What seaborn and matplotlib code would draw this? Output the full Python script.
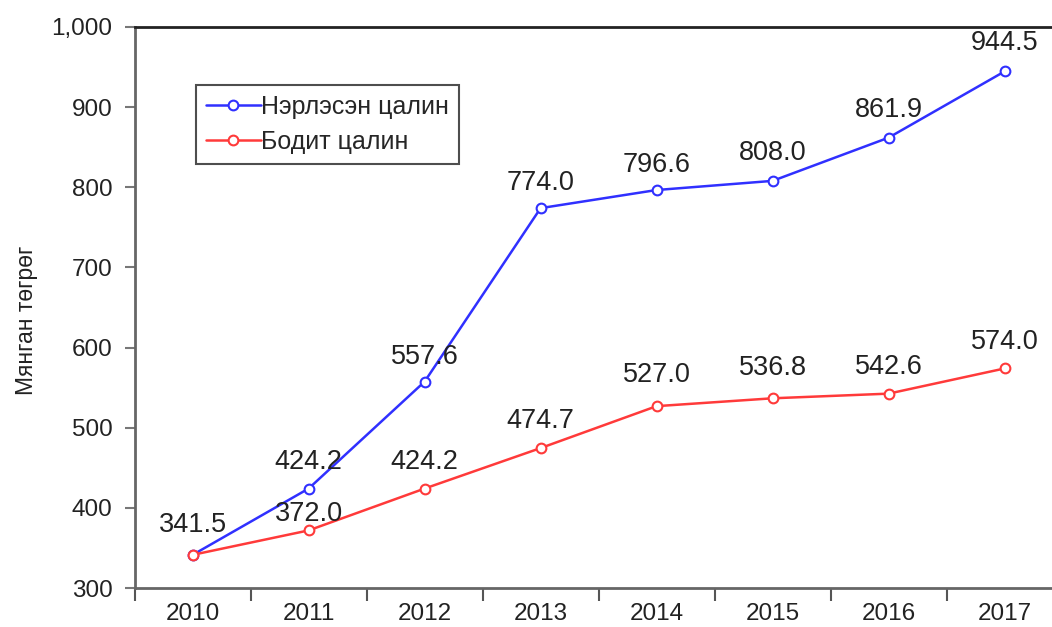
import pandas as pd
import seaborn as sns
import matplotlib.pyplot as plt
from matplotlib.ticker import FuncFormatter, FixedLocator

# Data
years = ['2010', '2011', '2012', '2013', '2014', '2015', '2016', '2017']
nominal = [341.5, 424.2, 557.6, 774.0, 796.6, 808.0, 861.9, 944.5]
real = [341.5, 372.0, 424.2, 474.7, 527.0, 536.8, 542.6, 574.0]
series_names = ['Нэрлэсэн цалин', 'Бодит цалин']
colors = ['#3030ff', '#ff3a3a']

# label offsets (pixels above point); 2010 real label is shared with nominal
nominal_dy = [None, 27, 25, 25, 25, 28, 28, 28]
real_dy = [30, 16, 27, 27, 31, 30, 27, 26]

sns.set_style('white')
plt.rcParams['font.family'] = ['Liberation Sans', 'DejaVu Sans']

df = pd.DataFrame({'Year': years * 2,
                   'Value': nominal + real,
                   'Series': [series_names[0]] * 8 + [series_names[1]] * 8})

fig = plt.figure(figsize=(10.52, 6.27), dpi=100)
ax = fig.add_axes([0.128, 0.062, 0.882, 0.895])

sns.lineplot(data=df, x='Year', y='Value', hue='Series', sort=False,
             palette=colors, marker='o', markersize=7,
             markerfacecolor='white', markeredgewidth=1.5, linewidth=1.8,
             ax=ax)
for line in ax.lines:
    line.set_markeredgecolor(line.get_color())
    line.set_markerfacecolor('white')

for i, (v, dy) in enumerate(zip(nominal, nominal_dy)):
    if dy is None:
        continue
    ax.annotate(f'{v:.1f}', (i, v), xytext=(0, dy), textcoords='offset pixels',
                ha='center', va='center', fontsize=19.5, color='#222222')
for i, (v, dy) in enumerate(zip(real, real_dy)):
    ax.annotate(f'{v:.1f}', (i, v), xytext=(0, dy), textcoords='offset pixels',
                ha='center', va='center', fontsize=19.5, color='#222222')

ax.set_xlim(-0.5, 7.5)
ax.set_ylim(300, 1000)
ax.set_yticks([300, 400, 500, 600, 700, 800, 900, 1000])
ax.yaxis.set_major_formatter(FuncFormatter(lambda v, p: f'{v:,.0f}'))

# ticks between categories, labels at centers
ax.xaxis.set_major_locator(FixedLocator([i - 0.5 for i in range(9)]))
ax.xaxis.set_minor_locator(FixedLocator(list(range(8))))
ax.set_xticklabels([''] * 9)
ax.set_xticklabels(years, minor=True)
ax.tick_params(axis='x', which='major', direction='out', length=9, width=1.5,
               color='#555555', bottom=True)
ax.tick_params(axis='x', which='minor', length=0, labelsize=17.5, pad=11,
               labelcolor='#222222')
ax.tick_params(axis='y', direction='out', length=7, width=1.5, color='#777777',
               left=True, labelsize=17.5, labelcolor='#222222', pad=9)

ax.set_xlabel('')
ax.set_ylabel('Мянган төгрөг', fontsize=16.5, color='#222222')
ax.yaxis.set_label_coords(-0.104, 0.478)

for side in ['left', 'bottom']:
    ax.spines[side].set_color('#666666')
    ax.spines[side].set_linewidth(2)
ax.spines['top'].set_color('#222222')
ax.spines['top'].set_linewidth(2)
ax.spines['right'].set_visible(False)

leg = ax.legend(title=None, loc='upper left', bbox_to_anchor=(0.066, 0.897),
                fontsize=18, frameon=True, fancybox=False, edgecolor='#222222',
                handlelength=2.2, handletextpad=0.0, borderpad=0.4,
                labelspacing=0.45, borderaxespad=0)
leg.get_frame().set_linewidth(1.5)
for h in leg.legend_handles:
    h.set_markeredgecolor(h.get_color())
    h.set_markerfacecolor('white')

fig.savefig('out.png', dpi=100)
